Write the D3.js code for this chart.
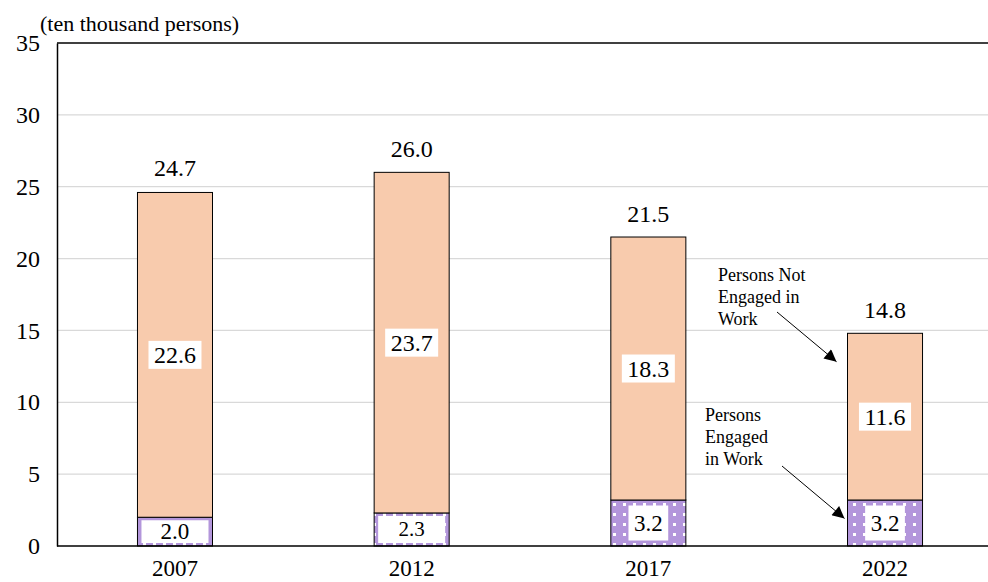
<!DOCTYPE html>
<html>
<head>
<meta charset="utf-8">
<script src="https://cdn.jsdelivr.net/npm/d3@7/dist/d3.min.js"></script>
<style>
  html, body { margin: 0; padding: 0; background: #fff; }
  svg { display: block; }
  svg text { font-family: "Liberation Serif", "Times New Roman", Times, serif !important; }
</style>
</head>
<body>
<svg id="chart" width="988" height="582"></svg>
<script>
// Survey years
const years = ["2007", "2012", "2017", "2022"];
// Persons engaged in work (ten thousand persons)
const engaged = [2.0, 2.3, 3.2, 3.2];
// Persons not engaged in work (ten thousand persons)
const notEngaged = [22.6, 23.7, 18.3, 11.6];
// Totals shown above each bar
const totals = [24.7, 26.0, 21.5, 14.8];
// Y axis ticks
const yTicks = [0, 5, 10, 15, 20, 25, 30, 35];

const svg = d3.select("#chart");
const W = 988;
const plotLeft = 57, plotTop = 43, plotBottom = 546;

const y = d3.scaleLinear().domain([0, 35]).range([plotBottom, plotTop]);
const x = d3.scaleBand().domain(years).range([plotLeft, 1003]).paddingInner(0.683).paddingOuter(0.34);

// Dotted fill for the lower segment
const defs = svg.append("defs");
const pat = defs.append("pattern")
  .attr("id", "dots").attr("patternUnits", "userSpaceOnUse")
  .attr("width", 10).attr("height", 10);
pat.append("rect").attr("width", 10).attr("height", 10).attr("fill", "#b396db");
pat.append("rect").attr("x", 3).attr("y", 3).attr("width", 3).attr("height", 3).attr("fill", "#fff");

// Gridlines
svg.append("g").selectAll("line")
  .data(yTicks.filter(d => d > 0 && d < 35))
  .join("line")
  .attr("x1", plotLeft).attr("x2", W)
  .attr("y1", d => y(d)).attr("y2", d => y(d))
  .attr("stroke", "#d9d9d9").attr("stroke-width", 1.3);

// Top frame line
svg.append("line").attr("x1", plotLeft).attr("x2", W)
  .attr("y1", y(35)).attr("y2", y(35))
  .attr("stroke", "#000").attr("stroke-width", 1.5);

// Y axis
const yAxis = d3.axisLeft(y).tickValues(yTicks).tickSize(0).tickPadding(17).tickFormat(d3.format("d"));
const gy = svg.append("g").attr("transform", `translate(${plotLeft},0)`).call(yAxis);
gy.select(".domain").attr("stroke", "#000").attr("stroke-width", 1.5);
gy.selectAll("text").attr("font-size", 24).attr("fill", "#000");

// Bars
const gBars = svg.append("g");
years.forEach((yr, i) => {
  const bx = x(yr), bw = x.bandwidth();
  // lower segment
  gBars.append("rect")
    .attr("x", bx).attr("width", bw)
    .attr("y", y(engaged[i])).attr("height", y(0) - y(engaged[i]))
    .attr("fill", "url(#dots)").attr("stroke", "#000").attr("stroke-width", 1);
  // upper segment
  gBars.append("rect")
    .attr("x", bx).attr("width", bw)
    .attr("y", y(engaged[i] + notEngaged[i]))
    .attr("height", y(engaged[i]) - y(engaged[i] + notEngaged[i]))
    .attr("fill", "#f8cbad").attr("stroke", "#000").attr("stroke-width", 1);
});

// X axis
const xAxis = d3.axisBottom(x).tickSize(0).tickPadding(14);
const gx = svg.append("g").attr("transform", `translate(0,${plotBottom})`).call(xAxis);
gx.select(".domain").remove();
svg.append("line").attr("x1", plotLeft).attr("x2", W).attr("y1", plotBottom).attr("y2", plotBottom)
  .attr("stroke", "#000").attr("stroke-width", 1.5);
gx.selectAll("text").attr("font-size", 23).attr("fill", "#000");

// Segment value labels on white boxes
function boxedLabel(cx, y0, y1, txt, size, padX, padY) {
  const g = svg.append("g");
  const segH = Math.abs(y1 - y0);
  const t = g.append("text").attr("x", cx).attr("y", (y0 + y1) / 2)
    .attr("text-anchor", "middle").attr("dominant-baseline", "central")
    .attr("font-size", size).attr("fill", "#000").text(txt);
  const bb = t.node().getBBox();
  let w, h;
  if (segH < 40) {
    // short segment: box fills it, leaving a thin patterned rim
    w = x.bandwidth() - 8; h = segH - 6;
  } else {
    w = bb.width + padX * 2; h = bb.height + padY * 2;
  }
  g.insert("rect", "text")
    .attr("x", cx - w / 2).attr("y", (y0 + y1) / 2 - h / 2)
    .attr("width", w).attr("height", h).attr("fill", "#fff");
}
years.forEach((yr, i) => {
  const cx = x(yr) + x.bandwidth() / 2;
  boxedLabel(cx, y(engaged[i] + notEngaged[i]), y(engaged[i]), notEngaged[i].toFixed(1), 24, 5.5, 1);
  boxedLabel(cx, y(engaged[i]), y(0), engaged[i].toFixed(1), i === 1 ? 21 : 23, 5.5, 5);
  svg.append("text").attr("x", cx).attr("y", y(totals[i]) - 15)
    .attr("text-anchor", "middle").attr("font-size", 24).attr("fill", "#000")
    .text(totals[i].toFixed(1));
});

// Unit label
svg.append("text").attr("x", 40).attr("y", 31).attr("font-size", 22).attr("fill", "#000")
  .text("(ten thousand persons)");

// Callouts
defs.append("marker").attr("id", "arrow").attr("viewBox", "0 0 10 10")
  .attr("refX", 10).attr("refY", 5).attr("markerWidth", 15).attr("markerHeight", 12)
  .attr("markerUnits", "userSpaceOnUse").attr("orient", "auto")
  .append("path").attr("d", "M0,0 L10,5 L0,10 Z").attr("fill", "#000");

function callout(lines, tx, ty, lh, from, to) {
  const t = svg.append("text").attr("font-size", 18).attr("fill", "#000");
  lines.forEach((l, k) => t.append("tspan").attr("x", tx).attr("y", ty + k * lh).text(l));
  svg.append("line").attr("x1", from[0]).attr("y1", from[1]).attr("x2", to[0]).attr("y2", to[1])
    .attr("stroke", "#000").attr("stroke-width", 1).attr("marker-end", "url(#arrow)");
}
const last = years[3];
const lx = x(last);
callout(["Persons Not", "Engaged in", "Work"], 718, 281, 22,
  [777, 312], [lx - 11, y(engaged[3] + notEngaged[3] * 0.83)]);
callout(["Persons", "Engaged", "in Work"], 705, 421, 22,
  [782, 466], [lx - 3, y(engaged[3] * 0.6)]);
</script>
</body>
</html>
